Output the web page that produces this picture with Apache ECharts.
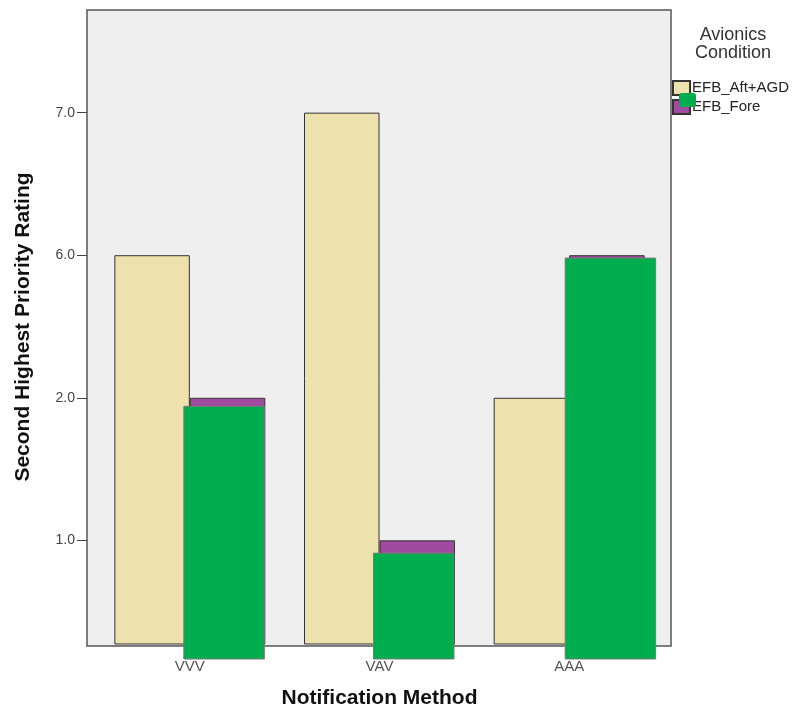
<!DOCTYPE html>
<html>
<head>
<meta charset="utf-8">
<script src="https://cdn.jsdelivr.net/npm/echarts@6/dist/echarts.min.js"></script>
<style>html,body{margin:0;padding:0;background:#fff;}#c{width:797px;height:714px;}</style>
</head>
<body>
<div id="c"></div>
<script>
var categories = ['VVV', 'VAV', 'AAA'];
var seriesNames = ['EFB_Aft+AGD', 'EFB_Fore'];
var aftValues = [3, 4, 2];
var foreValues = [2, 1, 3];
var overlayTops = [1.94, 0.91, 2.98];
var tickValues = [1, 2, 3, 4];
var tickLabels = ['1.0', '2.0', '6.0', '7.0'];

var FONT = '"Liberation Sans", Arial, sans-serif';
var CAT_GAP = 0.204;

var chart = echarts.init(document.getElementById('c'), null, {renderer: 'canvas'});
var option = {
  animation: false,
  backgroundColor: '#ffffff',
  textStyle: {fontFamily: FONT},
  title: {
    text: 'Avionics\nCondition',
    left: 728, top: 21, textAlign: 'center',
    textStyle: {fontSize: 18, fontWeight: 'normal', color: '#333', lineHeight: 18, fontFamily: FONT}
  },
  legend: {
    orient: 'vertical', left: 672, top: 80, padding: 0,
    icon: 'rect',
    itemWidth: 17, itemHeight: 14, itemGap: 3,
    data: seriesNames,
    textStyle: {fontSize: 15, color: '#222', fontFamily: FONT, padding: [0, 0, 0, -3]}
  },
  grid: [
    {left: 87, right: 126, top: 10, bottom: 68, show: true, backgroundColor: '#efefef', borderColor: '#555', borderWidth: 1.5},
    {left: 95, right: 133, top: 10, bottom: 68}
  ],
  xAxis: [
    {gridIndex: 0, type: 'value', show: false, min: 0, max: 1},
    {
      gridIndex: 1, type: 'category', data: categories,
      name: 'Notification Method', nameLocation: 'middle', nameGap: 44,
      nameTextStyle: {fontSize: 21, fontWeight: 'bold', color: '#111', fontFamily: FONT},
      axisLine: {show: false}, axisTick: {show: false},
      axisLabel: {margin: 15, fontSize: 15, color: '#555', fontFamily: FONT}
    }
  ],
  yAxis: [
    {gridIndex: 0, type: 'value', show: false, min: 0, max: 1},
    {
      gridIndex: 1, type: 'value', min: 0.273, max: 4.72, offset: 8,
      name: 'Second Highest Priority Rating', nameLocation: 'middle', nameGap: 53,
      nameTextStyle: {fontSize: 21, fontWeight: 'bold', color: '#111', fontFamily: FONT},
      axisLine: {show: false},
      axisTick: {show: true, length: 10, customValues: tickValues, lineStyle: {color: '#444', width: 1}},
      axisLabel: {
        margin: 12, fontSize: 14, color: '#444', fontFamily: FONT,
        customValues: tickValues,
        formatter: function (v) { var i = tickValues.indexOf(v); return i >= 0 ? tickLabels[i] : ''; }
      },
      splitLine: {show: false}
    }
  ],
  series: [
    {
      name: seriesNames[0], type: 'bar', xAxisIndex: 1, yAxisIndex: 1,
      data: aftValues, barGap: '0%', barCategoryGap: (CAT_GAP * 100) + '%',
      itemStyle: {color: '#ede2ae', borderColor: '#333', borderWidth: 1}
    },
    {
      name: seriesNames[1], type: 'bar', xAxisIndex: 1, yAxisIndex: 1,
      data: foreValues, barGap: '0%', barCategoryGap: (CAT_GAP * 100) + '%',
      itemStyle: {color: '#a04ba0', borderColor: '#333', borderWidth: 1}
    },
    {
      name: 'overlay', type: 'custom', xAxisIndex: 1, yAxisIndex: 1, z: 5,
      data: overlayTops.map(function (v, i) { return [i, v]; }),
      renderItem: function (params, api) {
        var idx = api.value(0);
        var top = api.coord([idx, api.value(1)]);
        var band = api.size([1, 0])[0];
        var half = band * (1 - CAT_GAP) / 2;
        var base = api.coord([idx, 0.273]);
        var left = top[0] - 6 + (idx === 2 ? 2 : 0);
        var right = top[0] + half - 1 + (idx === 2 ? 12 : 0);
        var bottom = base[1] + 15;
        return {
          type: 'rect',
          shape: {x: left, y: top[1], width: right - left, height: bottom - top[1]},
          style: {fill: '#00ad4e', stroke: '#7a7a7a', lineWidth: 1}
        };
      }
    }
  ],
  graphic: [
    {type: 'rect', left: 679, top: 93, z: 100, shape: {width: 17, height: 14, r: 3}, style: {fill: '#00ad4e'}}
  ]
};
chart.setOption(option);
</script>
</body>
</html>
